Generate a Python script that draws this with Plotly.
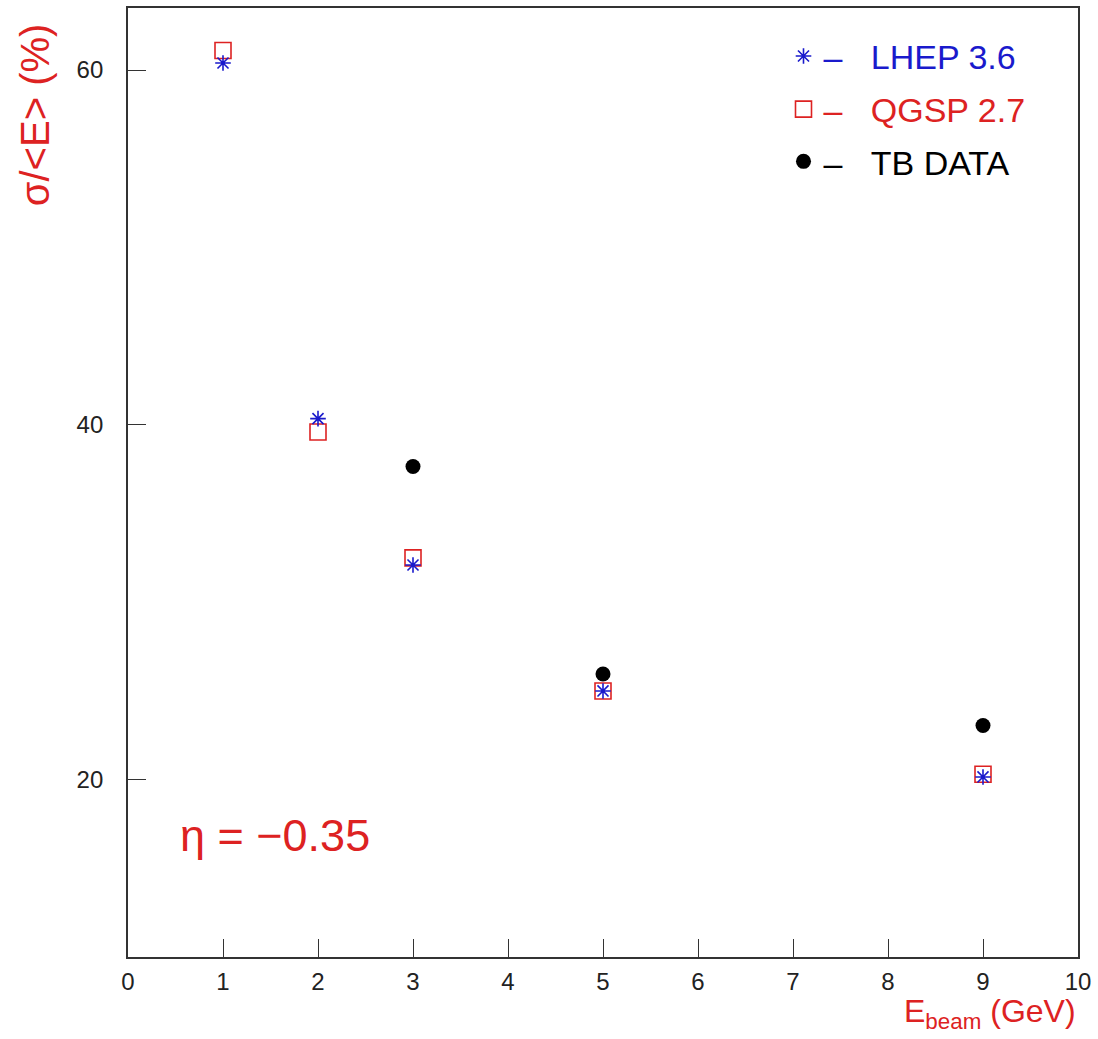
import plotly.graph_objects as go

energy = [1, 2, 3, 5, 9]
lhep = [60.4, 40.35, 32.1, 25.0, 20.15]
qgsp = [61.1, 39.6, 32.5, 25.0, 20.3]
tb_energy = [3, 5, 9]
tb_data = [37.65, 25.95, 23.05]

x_ticks = list(range(0, 11))
y_ticks = [20, 40, 60]

FONT = "Liberation Sans, Arial, sans-serif"
BLUE = "#1a1acc"
RED = "#dd2222"

fig = go.Figure()

fig.add_trace(go.Scatter(
    x=tb_energy, y=tb_data, mode="markers",
    name="<span style='color:black'>\u2013\u00a0\u00a0\u00a0TB DATA</span>",
    marker=dict(symbol="circle", size=15, color="black"),
    legend="legend3",
))
fig.add_trace(go.Scatter(
    x=energy, y=qgsp, mode="markers",
    name="<span style='color:%s'>\u2013\u00a0\u00a0\u00a0QGSP 2.7</span>" % RED,
    marker=dict(symbol="square-open", size=16, color=RED, line=dict(width=1.6, color=RED)),
    legend="legend2",
))
fig.add_trace(go.Scatter(
    x=energy, y=lhep, mode="markers",
    name="<span style='color:%s'>\u2013\u00a0\u00a0\u00a0LHEP 3.6</span>" % BLUE,
    marker=dict(symbol="asterisk-open", size=13, color=BLUE, line=dict(width=1.6, color=BLUE)),
    legend="legend",
))

leg_common = dict(font=dict(family=FONT, size=34), bgcolor="rgba(0,0,0,0)",
                  xanchor="left", yanchor="middle", x=0.69)
fig.update_layout(
    legend=dict(y=0.949, **leg_common),
    legend2=dict(y=0.893, **leg_common),
    legend3=dict(y=0.838, **leg_common),
)

fig.update_layout(
    width=1098, height=1039,
    margin=dict(l=128, r=20, t=6, b=82),
    paper_bgcolor="white", plot_bgcolor="white",
    font=dict(family=FONT, color="#222"),
    showlegend=True,
    xaxis=dict(
        range=[0, 10], tickmode="array", tickvals=x_ticks, ticktext=[str(v) for v in x_ticks],
        ticks="inside", ticklen=18, tickwidth=1.3, tickcolor="#333",
        showline=True, linecolor="#333", linewidth=1.8, mirror=True,
        showgrid=False, zeroline=False,
        tickfont=dict(family=FONT, size=24, color="#222"),
        ticklabelstandoff=2,
    ),
    yaxis=dict(
        range=[10, 63.5], tickmode="array", tickvals=y_ticks, ticktext=[str(v) for v in y_ticks],
        ticks="inside", ticklen=18, tickwidth=1.3, tickcolor="#333",
        showline=True, linecolor="#333", linewidth=1.8, mirror=True,
        showgrid=False, zeroline=False,
        tickfont=dict(family=FONT, size=24, color="#222"),
        ticklabelstandoff=18,
    ),
)

fig.add_annotation(
    text="\u03b7 = \u22120.35", xref="paper", yref="paper", x=0.155, y=0.128,
    xanchor="center", yanchor="middle", showarrow=False,
    font=dict(family=FONT, size=45, color=RED),
)
fig.add_annotation(
    text="\u03c3/<E> (%)", xref="paper", yref="paper", x=-0.098, y=0.888,
    xanchor="center", yanchor="middle", showarrow=False, textangle=-90,
    font=dict(family=FONT, size=40, color=RED),
)
fig.add_annotation(
    text="E<sub>beam</sub> (GeV)", xref="paper", yref="paper", x=1.0, y=-0.06,
    xanchor="right", yanchor="middle", showarrow=False,
    font=dict(family=FONT, size=32, color=RED),
)

fig.write_html("out.html", config={"displayModeBar": False},
               post_script="document.body.style.margin='0';")
